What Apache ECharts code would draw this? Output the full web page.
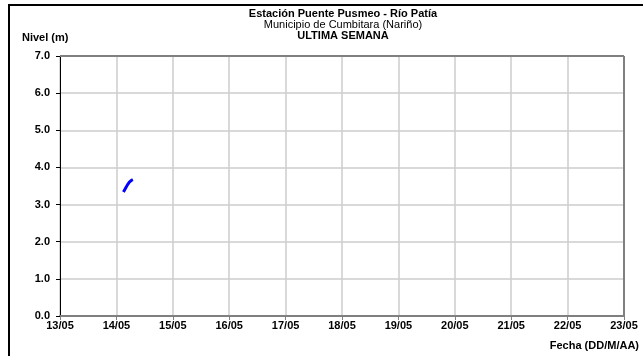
<!DOCTYPE html>
<html>
<head>
<meta charset="utf-8">
<script src="https://cdn.jsdelivr.net/npm/echarts@6/dist/echarts.min.js"></script>
<style>
html,body{margin:0;padding:0;background:#fff;}
#c{width:643px;height:356px;}
</style>
</head>
<body>
<div id="c"></div>
<script>
// Data
var titleMain = 'Estación Puente Pusmeo - Río Patía';
var titleSub = 'Municipio de Cumbitara (Nariño)';
var titlePeriod = 'ULTIMA SEMANA';
var yAxisTitle = 'Nivel (m)';
var xAxisTitle = 'Fecha (DD/M/AA)';
var xStart = '2023-05-13T00:00:00Z';
var xEnd = '2023-05-23T00:00:00Z';
var yMin = 0, yMax = 7, yStep = 1;
var times = ['2023-05-14T03:00:00Z','2023-05-14T04:00:00Z','2023-05-14T05:00:00Z','2023-05-14T06:00:00Z','2023-05-14T07:00:00Z'];
var levels = [3.34, 3.45, 3.56, 3.63, 3.67];

var DAY = 86400000;
var seriesData = times.map(function(t,i){ return [Date.parse(t), levels[i]]; });
function pad(n){ return (n<10?'0':'')+n; }

var chart = echarts.init(document.getElementById('c'), null, {renderer:'canvas'});
var font = '"Liberation Sans", Arial, sans-serif';
chart.setOption({
  animation:false,
  backgroundColor:'#ffffff',
  grid:{left:60, right:19, top:56, bottom:40, containLabel:false, show:false},
  xAxis:{
    type:'value',
    min:Date.parse(xStart), max:Date.parse(xEnd), interval:DAY,
    axisLine:{show:true, lineStyle:{color:'#808080', width:2}},
    axisTick:{show:true, inside:false, length:4, lineStyle:{color:'#808080', width:1}},
    axisLabel:{fontFamily:font, fontSize:11, fontWeight:'bold', color:'#000', margin:4,
      formatter:function(v){ var d=new Date(v); return pad(d.getUTCDate())+'/'+pad(d.getUTCMonth()+1); }},
    splitLine:{show:true, lineStyle:{color:'#cccccc', width:1.5}}
  },
  yAxis:{
    type:'value',
    min:yMin, max:yMax, interval:yStep,
    axisLine:{show:true, lineStyle:{color:'#000', width:1}},
    axisTick:{show:true, inside:false, length:4, lineStyle:{color:'#000'}},
    axisLabel:{fontFamily:font, fontSize:11, fontWeight:'bold', color:'#000', margin:10,
      formatter:function(v){ return v.toFixed(1); }},
    splitLine:{show:true, lineStyle:{color:'#cccccc', width:1.5}}
  },
  graphic:[
    {type:'polyline', shape:{points:[[9,356],[9,5],[643,5]]}, style:{stroke:'#000', lineWidth:2, fill:null}, z:100},
    {type:'line', shape:{x1:60,y1:56,x2:624,y2:56}, style:{stroke:'#808080', lineWidth:2}, z:50},
    {type:'line', shape:{x1:624,y1:56,x2:624,y2:316}, style:{stroke:'#808080', lineWidth:2}, z:50},
    {type:'text', x:343, y:8, style:{text:titleMain, font:'bold 11px '+font, fill:'#000', textAlign:'center'}},
    {type:'text', x:343, y:19, style:{text:titleSub, font:'normal 11px '+font, fill:'#000', textAlign:'center'}},
    {type:'text', x:343, y:30, style:{text:titlePeriod, font:'bold 11px '+font, fill:'#000', textAlign:'center'}},
    {type:'text', x:22, y:32, style:{text:yAxisTitle, font:'bold 11px '+font, fill:'#000'}},
    {type:'text', x:639, y:340, style:{text:xAxisTitle, font:'bold 11px '+font, fill:'#000', textAlign:'right'}}
  ],
  series:[{
    type:'line', data:seriesData, smooth:true, showSymbol:false,
    lineStyle:{color:'#0000ff', width:3}, itemStyle:{color:'#0000ff'}
  }]
});
</script>
</body>
</html>
